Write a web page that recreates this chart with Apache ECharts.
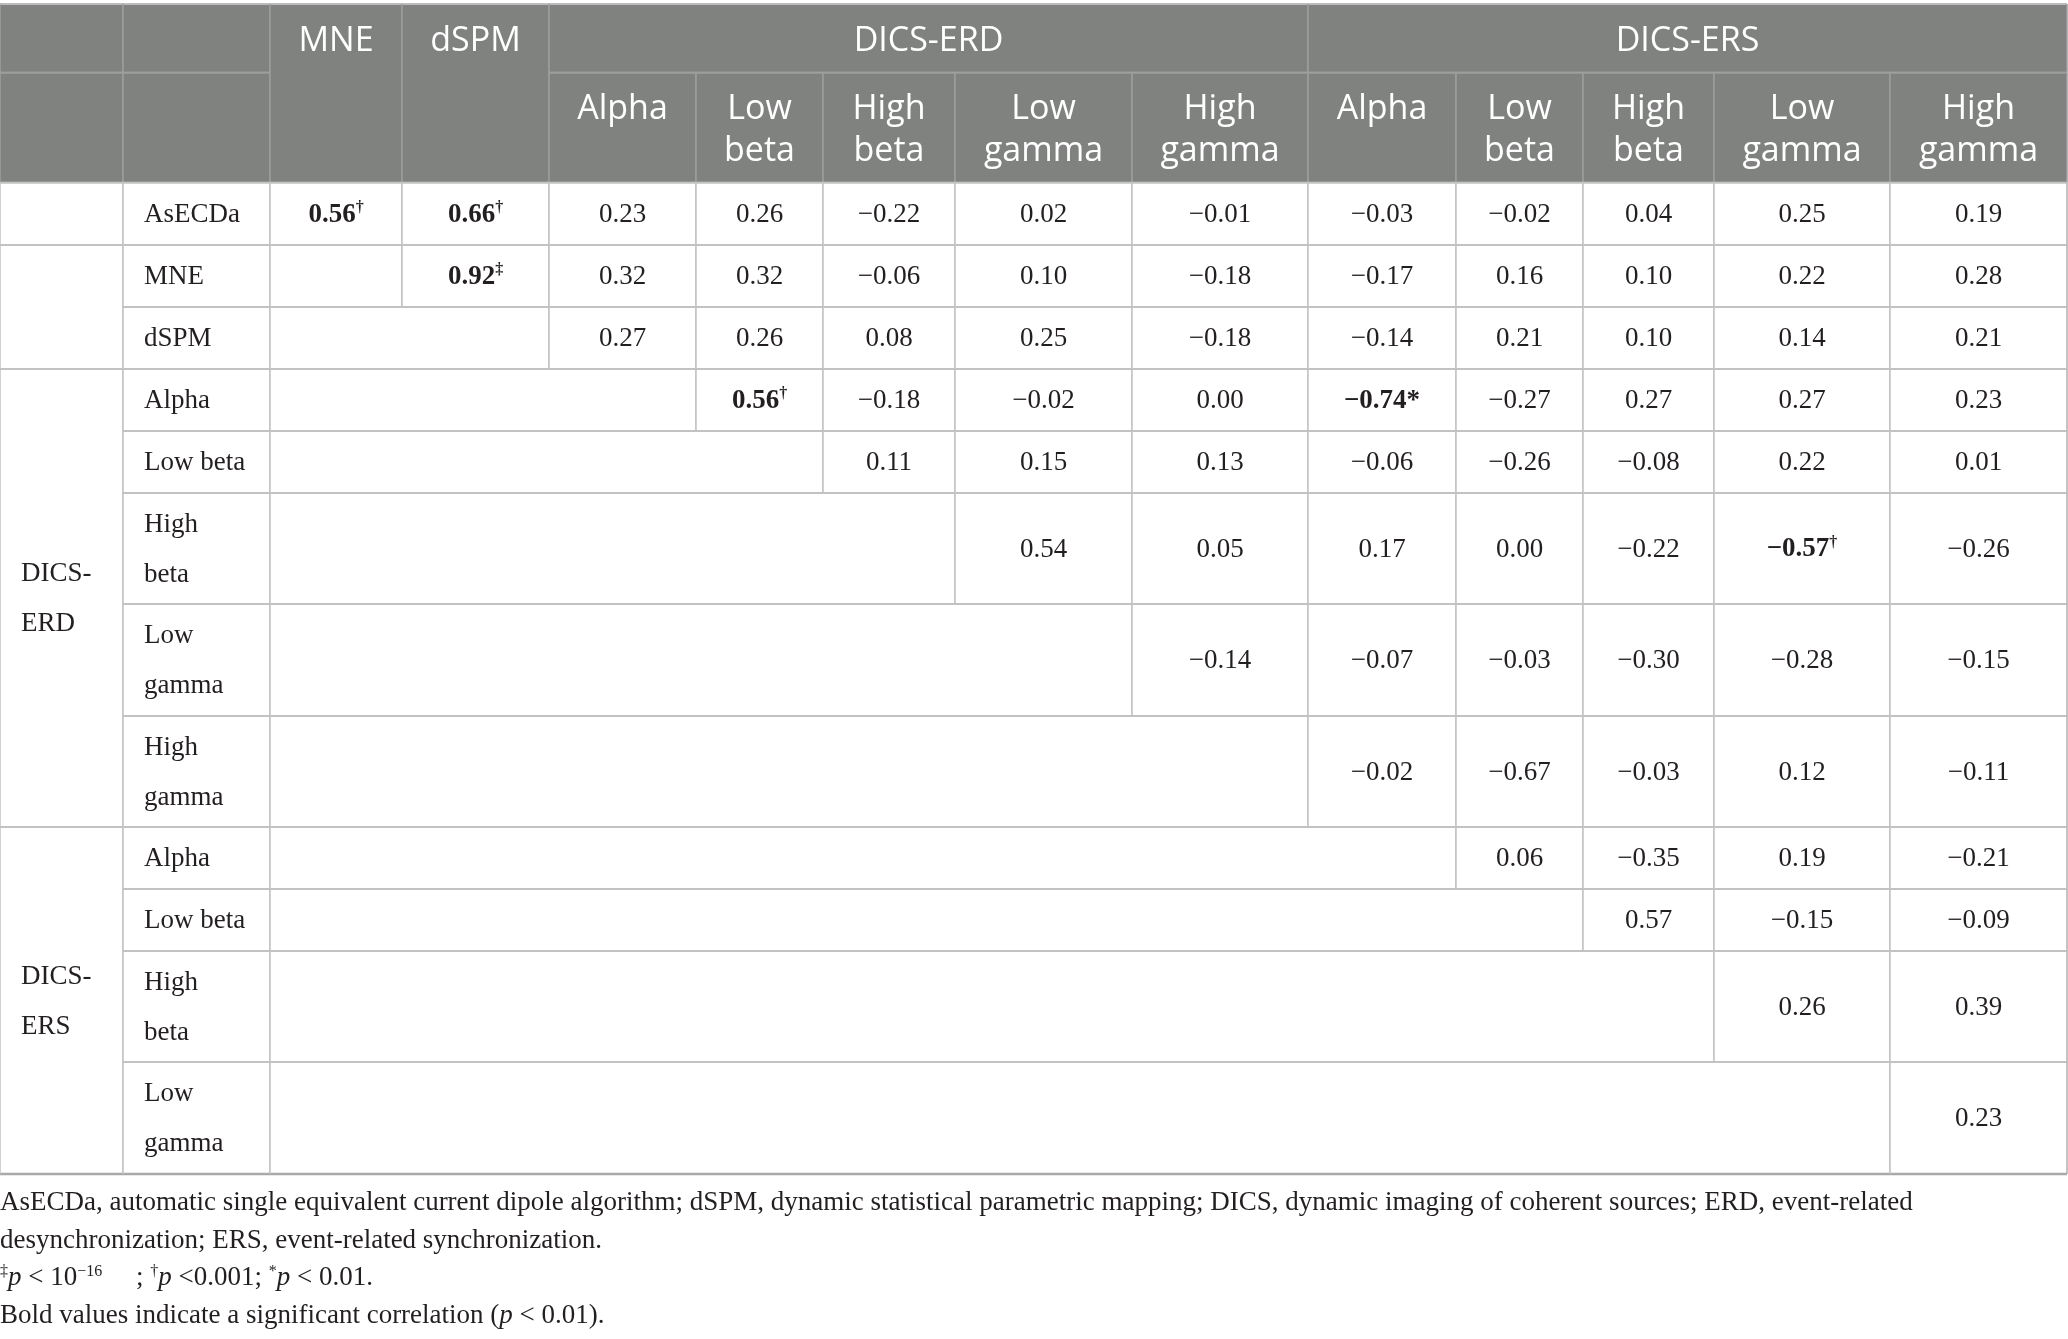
<!DOCTYPE html>
<html>
<head>
<meta charset="utf-8">
<script src="https://cdn.jsdelivr.net/npm/echarts@6/dist/echarts.min.js"></script>
<style>html,body{margin:0;padding:0;background:#fff}#c{width:2068px;height:1339px}</style>
</head>
<body>
<div id="c"></div>
<script>
// ---------------- DATA ----------------
const methodCols = ['MNE', 'dSPM'];
const groupCols = ['DICS-ERD', 'DICS-ERS'];
const bandCols = ['Alpha', 'Low\nbeta', 'High\nbeta', 'Low\ngamma', 'High\ngamma'];
const rowGroupLabels = ['', '', 'DICS-\nERD', 'DICS-\nERS'];
const rowGroupSizes = [1, 2, 5, 4];
const rowLabels = ['AsECDa', 'MNE', 'dSPM',
  'Alpha', 'Low beta', 'High\nbeta', 'Low\ngamma', 'High\ngamma',
  'Alpha', 'Low beta', 'High\nbeta', 'Low\ngamma'];
// columns: MNE, dSPM, ERD Alpha, ERD Low beta, ERD High beta, ERD Low gamma, ERD High gamma,
//          ERS Alpha, ERS Low beta, ERS High beta, ERS Low gamma, ERS High gamma
const corr = [
  [0.56, 0.66, 0.23, 0.26, -0.22, 0.02, -0.01, -0.03, -0.02, 0.04, 0.25, 0.19],
  [null, 0.92, 0.32, 0.32, -0.06, 0.10, -0.18, -0.17, 0.16, 0.10, 0.22, 0.28],
  [null, null, 0.27, 0.26, 0.08, 0.25, -0.18, -0.14, 0.21, 0.10, 0.14, 0.21],
  [null, null, null, 0.56, -0.18, -0.02, 0.00, -0.74, -0.27, 0.27, 0.27, 0.23],
  [null, null, null, null, 0.11, 0.15, 0.13, -0.06, -0.26, -0.08, 0.22, 0.01],
  [null, null, null, null, null, 0.54, 0.05, 0.17, 0.00, -0.22, -0.57, -0.26],
  [null, null, null, null, null, null, -0.14, -0.07, -0.03, -0.30, -0.28, -0.15],
  [null, null, null, null, null, null, null, -0.02, -0.67, -0.03, 0.12, -0.11],
  [null, null, null, null, null, null, null, null, 0.06, -0.35, 0.19, -0.21],
  [null, null, null, null, null, null, null, null, null, 0.57, -0.15, -0.09],
  [null, null, null, null, null, null, null, null, null, null, 0.26, 0.39],
  [null, null, null, null, null, null, null, null, null, null, null, 0.23]
];
// significant (bold) cells: [row, col, mark]
const significant = [[0, 0, '†'], [0, 1, '†'], [1, 1, '‡'], [3, 3, '†'], [3, 7, '*'], [5, 10, '†']];
const footnotes = [
  'AsECDa, automatic single equivalent current dipole algorithm; dSPM, dynamic statistical parametric mapping; DICS, dynamic imaging of coherent sources; ERD, event-related',
  'desynchronization; ERS, event-related synchronization.',
  '{sup|‡}{i|p} < 10{sup|−16}     ; {sup|†}{i|p} <0.001; {sup|*}{i|p} < 0.01.',
  'Bold values indicate a significant correlation ({i|p} < 0.01).'
];

// ---------------- LAYOUT (style) ----------------
const W = 2068, H = 1339;
const colEdges = [0, 123, 270, 402, 549, 696, 823, 955, 1132, 1308, 1456, 1583, 1714, 1890, 2067];
const rowEdges = [4, 72.7, 182.7, 245, 307, 369, 431, 493, 604, 716, 827, 889, 951, 1062, 1174];
const HEAD_BG = '#808280', HEAD_LINE = '#9d9e9d', BODY_LINE = '#c2c2c2', TEXT = '#231f20';
const SERIF = '"Liberation Serif", "DejaVu Serif", serif';
const SANS = '"Open Sans", "Noto Sans", sans-serif';

// ---------------- CELLS ----------------
const cells = [];
function add(c0, c1, r0, r1, kind, text) { cells.push({ c0, c1, r0, r1, kind, text }); }
// header
add(0, 1, 0, 1, 'head', ''); add(0, 1, 1, 2, 'head', '');
add(1, 2, 0, 1, 'head', ''); add(1, 2, 1, 2, 'head', '');
methodCols.forEach((m, i) => add(2 + i, 3 + i, 0, 2, 'head', m));
groupCols.forEach((g, i) => add(4 + i * 5, 9 + i * 5, 0, 1, 'head', g));
groupCols.forEach((g, gi) => bandCols.forEach((b, i) => add(4 + gi * 5 + i, 5 + gi * 5 + i, 1, 2, 'head2', b)));
// body groups
let rStart = 0;
rowGroupSizes.forEach((n, gi) => {
  add(0, 1, 2 + rStart, 2 + rStart + n, 'group', rowGroupLabels[gi]);
  rStart += n;
});
function fmt(v) { return v.toFixed(2).replace('-', '−'); }
rowLabels.forEach((lab, r) => {
  add(1, 2, 2 + r, 3 + r, 'label', lab);
  const row = corr[r];
  let empty = 0;
  while (empty < row.length && row[empty] === null) empty++;
  if (empty > 0) add(2, 2 + empty, 2 + r, 3 + r, 'empty', '');
  for (let c = empty; c < row.length; c++) {
    const sig = significant.find(s => s[0] === r && s[1] === c);
    let t;
    if (sig) {
      t = sig[2] === '*' ? '{b|' + fmt(row[c]) + '*}' : '{b|' + fmt(row[c]) + '}{sup|' + sig[2] + '}';
    } else t = '{n|' + fmt(row[c]) + '}';
    add(2 + c, 3 + c, 2 + r, 3 + r, 'value', t);
  }
});

const valueRich = {
  n: { fontFamily: SERIF, fontSize: 27, lineHeight: 30, color: TEXT },
  b: { fontFamily: SERIF, fontSize: 27, fontWeight: 'bold', lineHeight: 30, color: TEXT },
  sup: { fontFamily: SERIF, fontSize: 16, fontWeight: 'bold', lineHeight: 12, verticalAlign: 'top', color: TEXT }
};

function renderItem(params, api) {
  const cell = cells[params.dataIndex];
  const p0 = api.coord([api.value(0), api.value(1)]);
  const p1 = api.coord([api.value(2), api.value(3)]);
  const x0 = p0[0], y0 = p0[1], x1 = p1[0], y1 = p1[1];
  const isHead = cell.kind === 'head' || cell.kind === 'head2';
  const lc = isHead ? HEAD_LINE : BODY_LINE;
  const ch = [];
  ch.push({ type: 'rect', shape: { x: x0, y: y0, width: x1 - x0, height: y1 - y0 }, style: { fill: isHead ? HEAD_BG : '#fff' } });
  const topColor = (isHead && cell.r0 === 0) ? '#bcbcbc' : lc;
  ch.push({ type: 'line', shape: { x1: x0, y1: y0, x2: x1, y2: y0 }, style: { stroke: topColor, lineWidth: 2 } });
  const botLast = cell.r1 === rowEdges.length - 1;
  ch.push({ type: 'line', shape: { x1: x0, y1: y1, x2: x1, y2: y1 }, style: { stroke: botLast ? '#a9a9a9' : lc, lineWidth: botLast ? 2.5 : 2 } });
  ch.push({ type: 'line', shape: { x1: x0, y1: y0, x2: x0, y2: y1 }, style: { stroke: lc, lineWidth: 1.5 } });
  ch.push({ type: 'line', shape: { x1: x1, y1: y0, x2: x1, y2: y1 }, style: { stroke: (cell.c1 === colEdges.length - 1 && !isHead) ? '#b0b0b0' : lc, lineWidth: 1.5 } });
  if (cell.text) {
    if (isHead) {
      ch.push({ type: 'text', style: { text: cell.text, x: (x0 + x1) / 2, y: y0 + (cell.kind === 'head' ? 16 : 16), align: 'center', verticalAlign: 'top', font: '34px ' + SANS, lineHeight: 42, fill: '#ffffff' } });
    } else if (cell.kind === 'value') {
      ch.push({ type: 'text', style: { text: cell.text, rich: valueRich, x: (x0 + x1) / 2, y: (y0 + y1) / 2 + 1, align: 'center', verticalAlign: 'middle', font: '27px ' + SERIF, fill: TEXT } });
    } else {
      ch.push({ type: 'text', style: { text: cell.text, x: x0 + 21, y: (y0 + y1) / 2 + 1, align: 'left', verticalAlign: 'middle', font: '27px ' + SERIF, lineHeight: 50, fill: TEXT } });
    }
  }
  return { type: 'group', children: ch };
}

const footRich = {
  i: { fontFamily: SERIF, fontSize: 27, fontStyle: 'italic', lineHeight: 30, color: TEXT },
  sup: { fontFamily: SERIF, fontSize: 16, lineHeight: 12, verticalAlign: 'top', color: TEXT }
};

const chart = echarts.init(document.getElementById('c'), null, { renderer: 'canvas' });
chart.setOption({
  animation: false,
  backgroundColor: '#ffffff',
  grid: { left: 0, right: 0, top: 0, bottom: 0 },
  xAxis: { type: 'value', min: 0, max: W, show: false },
  yAxis: { type: 'value', min: 0, max: H, inverse: true, show: false },
  series: [{
    type: 'custom',
    clip: false,
    renderItem: renderItem,
    encode: { x: [0, 2], y: [1, 3] },
    data: cells.map(c => [colEdges[c.c0], rowEdges[c.r0], colEdges[c.c1], rowEdges[c.r1]])
  }],
  graphic: footnotes.map((t, i) => ({
    type: 'text',
    x: 0,
    y: 1203 + i * 37.7,
    style: { text: t, rich: footRich, font: '27px ' + SERIF, fill: TEXT, verticalAlign: 'middle', lineHeight: 30 }
  }))
});
</script>
</body>
</html>
